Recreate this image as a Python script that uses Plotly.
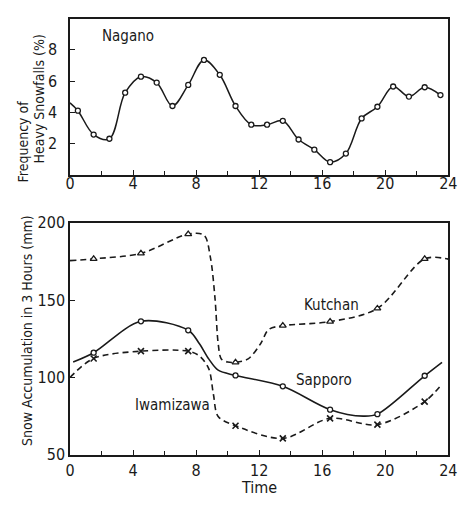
import plotly.graph_objects as go

# ---------------- data ----------------
# Nagano: frequency of heavy snowfalls (%) at half-hour marks
nagano_hours = [0.5, 1.5, 2.5, 3.5, 4.5, 5.5, 6.5, 7.5, 8.5, 9.5, 10.5, 11.5,
                12.5, 13.5, 14.5, 15.5, 16.5, 17.5, 18.5, 19.5, 20.5, 21.5, 22.5, 23.5]
nagano_freq = [4.1, 2.57, 2.3, 5.25, 6.28, 5.9, 4.4, 5.75, 7.35, 6.4, 4.4, 3.2,
               3.2, 3.45, 2.25, 1.6, 0.8, 1.35, 3.6, 4.35, 5.65, 5.0, 5.6, 5.1]
# curve start (line begins at hour 0)
nagano_curve_x = [0.0] + nagano_hours
nagano_curve_y = [4.6] + nagano_freq

# Snow accumulation in 3 hours (mm), observations every 3 h
obs_hours = [1.5, 4.5, 7.5, 10.5, 13.5, 16.5, 19.5, 22.5]
kutchan = [176.7, 180.2, 192.7, 109.8, 133.5, 136.1, 144.6, 176.7]
sapporo = [116.0, 136.3, 130.5, 101.3, 94.3, 79.2, 76.3, 101.1]
iwamizawa = [112.3, 117.0, 117.0, 68.8, 60.6, 73.6, 69.5, 84.4]

# curve paths (including unmarked bends)
kutchan_curve_x = [0.0, 1.5, 4.5, 7.5, 8.5, 8.9, 9.2, 9.4, 9.6, 10.0, 10.5, 11.3,
                   12.1, 12.6, 13.5, 16.5, 19.5, 22.5, 24.0]
kutchan_curve_y = [175.5, 176.7, 180.2, 192.7, 192.0, 178.0, 151.0, 122.0, 112.0,
                   110.0, 109.8, 112.0, 122.0, 131.0, 133.5, 136.1, 144.6, 176.7, 176.5]
sapporo_curve_x = [0.2, 1.5, 4.5, 7.5, 8.2, 8.8, 9.4, 10.5, 13.5, 16.5, 18.6, 19.5,
                   22.5, 23.6]
sapporo_curve_y = [110.0, 116.0, 136.3, 130.5, 122.0, 112.0, 104.7, 101.3, 94.3,
                   79.2, 75.0, 76.3, 101.1, 109.8]
iwamizawa_curve_x = [0.0, 1.5, 4.5, 7.5, 8.2, 8.8, 9.1, 9.4, 10.5, 13.5, 16.5,
                     19.5, 22.5, 23.6]
iwamizawa_curve_y = [100.0, 112.3, 117.0, 117.0, 114.0, 105.7, 89.0, 74.8, 68.8,
                     60.6, 73.6, 69.5, 84.4, 95.8]

x_ticks = [0, 4, 8, 12, 16, 20, 24]
top_y_ticks = [2, 4, 6, 8]
bot_y_ticks = [50, 100, 150, 200]

FONT = "DejaVu Sans Condensed, Liberation Sans Narrow, Liberation Sans, Arial"
INK = "#1a1a1a"

fig = go.Figure()

# ---------------- top panel ----------------
fig.add_trace(go.Scatter(x=nagano_curve_x, y=nagano_curve_y, mode="lines",
                         line=dict(color=INK, width=1.5, shape="spline", smoothing=1.0),
                         xaxis="x", yaxis="y", hoverinfo="skip"))
fig.add_trace(go.Scatter(x=nagano_hours, y=nagano_freq, mode="markers",
                         marker=dict(symbol="circle", size=5, color="white",
                                     line=dict(color=INK, width=1.3)),
                         xaxis="x", yaxis="y"))

# ---------------- bottom panel ----------------
fig.add_trace(go.Scatter(x=kutchan_curve_x, y=kutchan_curve_y, mode="lines",
                         line=dict(color=INK, width=1.6, dash="6px,4px",
                                   shape="spline", smoothing=0.9),
                         xaxis="x2", yaxis="y2", hoverinfo="skip"))
fig.add_trace(go.Scatter(x=sapporo_curve_x, y=sapporo_curve_y, mode="lines",
                         line=dict(color=INK, width=1.6, shape="spline", smoothing=0.9),
                         xaxis="x2", yaxis="y2", hoverinfo="skip"))
fig.add_trace(go.Scatter(x=iwamizawa_curve_x, y=iwamizawa_curve_y, mode="lines",
                         line=dict(color=INK, width=1.6, dash="6px,4px",
                                   shape="spline", smoothing=0.9),
                         xaxis="x2", yaxis="y2", hoverinfo="skip"))
fig.add_trace(go.Scatter(x=obs_hours, y=kutchan, mode="markers",
                         marker=dict(symbol="triangle-up", size=6, color="white",
                                     line=dict(color=INK, width=1.3)),
                         xaxis="x2", yaxis="y2"))
fig.add_trace(go.Scatter(x=obs_hours, y=sapporo, mode="markers",
                         marker=dict(symbol="circle", size=5, color="white",
                                     line=dict(color=INK, width=1.3)),
                         xaxis="x2", yaxis="y2"))
fig.add_trace(go.Scatter(x=obs_hours, y=iwamizawa, mode="markers",
                         marker=dict(symbol="x-thin", size=6,
                                     line=dict(color=INK, width=1.6)),
                         xaxis="x2", yaxis="y2"))

axis_common = dict(showline=True, mirror=True, linecolor=INK, linewidth=1.5,
                   showgrid=False, zeroline=False, ticks="inside", ticklen=5,
                   tickcolor=INK, tickwidth=1.2,
                   tickfont=dict(family=FONT, size=16, color=INK))

x_dom = [67 / 468, 457 / 468]

fig.update_layout(
    width=468, height=512,
    margin=dict(l=0, r=0, t=0, b=0),
    paper_bgcolor="white", plot_bgcolor="white",
    showlegend=False,
    font=dict(family=FONT, color=INK),
    xaxis=dict(axis_common, domain=x_dom, range=[0, 24], tickvals=x_ticks,
               minor=dict(ticks="inside", dtick=2, tick0=0, ticklen=4, tickcolor=INK),
               ticklabelstandoff=-7, anchor="y"),
    yaxis=dict(axis_common, domain=[1 - 172 / 512, 1 - 10 / 512], range=[0, 10],
               tickvals=top_y_ticks, ticklabelstandoff=8, anchor="x"),
    xaxis2=dict(axis_common, domain=x_dom, range=[0, 24], tickvals=x_ticks,
                minor=dict(ticks="inside", dtick=2, tick0=0, ticklen=4, tickcolor=INK),
                ticklabelstandoff=0, anchor="y2"),
    yaxis2=dict(axis_common, domain=[1 - 463 / 512, 1 - 222 / 512], range=[50, 200],
                tickvals=bot_y_ticks, ticklabelstandoff=0, anchor="x2"),
)

def ann(text, x, y, size=15, xref="paper", yref="paper", angle=0):
    fig.add_annotation(text=text, x=x, y=y, xref=xref, yref=yref, showarrow=False,
                       textangle=angle, xanchor="center", yanchor="middle",
                       font=dict(family=FONT, size=size, color=INK))

# axis titles
ann("Frequency of", 18 / 468, 1 - 137 / 512, size=14, angle=-90)
ann("Heavy Snowfalls (%)", 35 / 468, 1 - 93 / 512, size=14, angle=-90)
ann("Snow Accumulation in 3 Hours (mm)", 22 / 468, 1 - 334 / 512, size=14, angle=-90)
ann("Time", 262 / 468, 1 - 497 / 512, size=16)

# series labels
ann("Nagano", 3.7, 8.9, size=15, xref="x", yref="y")
ann("Kutchan", 16.6, 147, size=15, xref="x2", yref="y2")
ann("Sapporo", 16.1, 98.5, size=15, xref="x2", yref="y2")
ann("Iwamizawa", 6.5, 82.5, size=15, xref="x2", yref="y2")

fig.write_html("out.html")
